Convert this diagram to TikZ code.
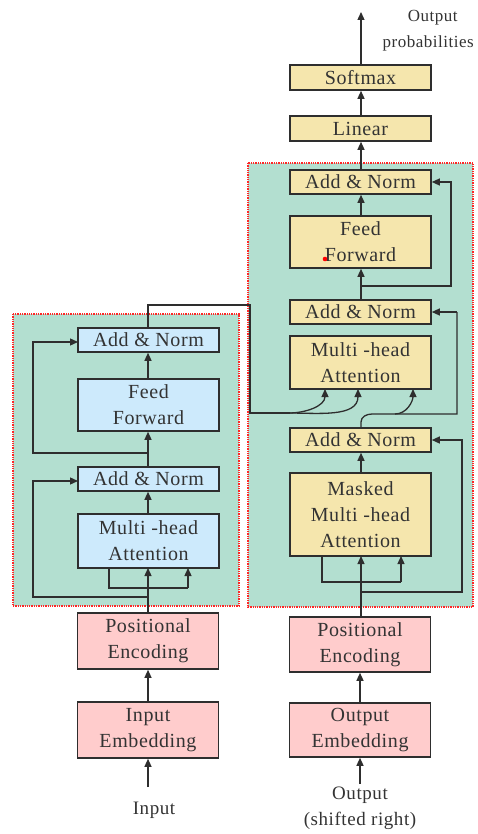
\documentclass[tikz,border=0pt]{standalone}
\usepackage{fontspec}
\setmainfont{Liberation Serif}
\newfontfamily\tnr[LetterSpace=3]{Liberation Serif}
\usetikzlibrary{arrows.meta}
\definecolor{greenbg}{HTML}{B3DFD0}
\definecolor{bluebox}{HTML}{CDEAFC}
\definecolor{yellowbox}{HTML}{F5E6AD}
\definecolor{pinkbox}{HTML}{FFCCCC}
\definecolor{linec}{HTML}{2E2E2E}
\definecolor{textc}{HTML}{333333}
\tikzset{
  box/.style={draw=linec, line width=1.6pt, inner sep=0pt, align=center,
    font=\tnr\fontsize{20}{26}\selectfont, text=textc, minimum width=141pt},
  ebox/.style={box, fill=bluebox},
  dbox/.style={box, fill=yellowbox},
  pbox/.style={box, fill=pinkbox},
  container/.style={fill=greenbg, draw=red!85!white, densely dotted, line width=1.3pt},
  conn/.style={draw=linec, line width=1.3pt},
  arr/.style={conn, -{Triangle[length=8pt,width=7pt]}},
  lbl/.style={font=\tnr\fontsize{19}{26}\selectfont, text=textc, align=center, inner sep=0pt}
}
\begin{document}
\begin{tikzpicture}[x=1pt,y=-1pt]
\useasboundingbox (0,0) rectangle (477,834);
% containers
\path[container] (13,314) rectangle (239,606);
\path[container] (248,163) rectangle (473,607);

% encoder boxes
\node[ebox, minimum height=24pt] (eAN2) at (148.5,340) {Add \& Norm};
\node[ebox, minimum height=52pt] (eFF) at (148.5,405) {Feed\\Forward};
\node[ebox, minimum height=24pt] (eAN1) at (148.5,479) {Add \& Norm};
\node[ebox, minimum height=54pt] (eMHA) at (148.5,541) {Multi -head\\Attention};
\node[pbox, minimum height=56pt] (ePE) at (148,641) {Positional\\Encoding};
\node[pbox, minimum height=56pt] (eIE) at (148,730) {Input\\Embedding};
\node[lbl] (inl) at (154,810) {Input};

% decoder boxes
\node[dbox, minimum height=25pt] (dSM) at (360.5,77.5) {Softmax};
\node[dbox, minimum height=25pt] (dLin) at (360.5,128.5) {Linear};
\node[dbox, minimum height=24pt] (dAN3) at (360.5,182) {Add \& Norm};
\node[dbox, minimum height=52pt] (dFF) at (360.5,242) {Feed\\Forward};
\node[dbox, minimum height=24pt] (dAN2) at (360.5,312) {Add \& Norm};
\node[dbox, minimum height=53pt] (dMHA) at (360.5,362.5) {Multi -head\\Attention};
\node[dbox, minimum height=24pt] (dAN1) at (360.5,440) {Add \& Norm};
\node[dbox, minimum height=83pt] (dMMHA) at (360.5,514.5) {Masked\\Multi -head\\Attention};
\node[pbox, minimum height=55pt] (dPE) at (360,644.5) {Positional\\Encoding};
\node[pbox, minimum height=54pt] (dOE) at (360,730) {Output\\Embedding};
\node[lbl] (outl) at (360,808) {Output\\(shifted right)};
\node[lbl, font=\tnr\fontsize{17}{26}\selectfont, anchor=east] (probl) at (474,31) {\hspace*{9pt}Output\\probabilities};
\fill[red] (325,259) circle (2.3pt);

% coordinates
\coordinate (top) at (361,12);
\coordinate (inS) at (148,787);
\coordinate (outS) at (360,784);

% encoder connectors
\draw[arr] (inS) -- (eIE.south);
\draw[arr] (eIE.north -| 148,0) -- (ePE.south -| 148,0);
\draw[arr] (ePE.north -| 148,0) -- (148,568);
\draw[conn] (109,568) -- (109,588) -- (188,588);
\draw[arr] (188,588) -- (188,568);
\draw[arr] (148,597) -- (33,597) -- (33,481) -- (78,481);
\draw[arr] (eMHA.north -| 148,0) -- (eAN1.south -| 148,0);
\draw[arr] (eAN1.north -| 148,0) -- (eFF.south -| 148,0);
\draw[arr] (148,453) -- (33,453) -- (33,342) -- (78,342);
\draw[arr] (eFF.north -| 148,0) -- (eAN2.south -| 148,0);
% encoder output to decoder
\draw[conn] (eAN2.north -| 148,0) -- (148,305) -- (250,305) -- (250,413) -- (290,413);
\draw[arr] (289,413) to[out=0,in=-90] (325,389);
\draw[arr] (289,413) to[out=0,in=-90] (358,389);

% decoder connectors
\draw[arr] (outS) -- (dOE.south);
\draw[arr] (dOE.north) -- (dPE.south);
\draw[arr] (dPE.north -| 361,0) -- (361,556);
\draw[conn] (322,556) -- (322,582) -- (401,582);
\draw[arr] (401,582) -- (401,556);
\draw[arr] (361,592) -- (462,592) -- (462,440) -- (dAN1.east);
\draw[arr] (dMMHA.north -| 361,0) -- (dAN1.south -| 361,0);
\draw[conn] (dAN1.north -| 361,0) -- (361,422) to[out=90,in=180] (372,414) -- (457,414) -- (457,312);
\draw[arr] (457,312) -- (dAN2.east);
\draw[arr] (395,414) to[out=0,in=-90] (413,389);
\draw[arr] (dAN2.north -| 361,0) -- (dFF.south -| 361,0);
\draw[arr] (361,286) -- (451,286) -- (451,182) -- (dAN3.east);
\draw[arr] (dFF.north -| 361,0) -- (dAN3.south -| 361,0);
\draw[arr] (dAN3.north -| 361,0) -- (dLin.south -| 361,0);
\draw[arr] (dLin.north -| 361,0) -- (dSM.south -| 361,0);
\draw[arr] (dSM.north -| 361,0) -- (top);
\end{tikzpicture}
\end{document}
